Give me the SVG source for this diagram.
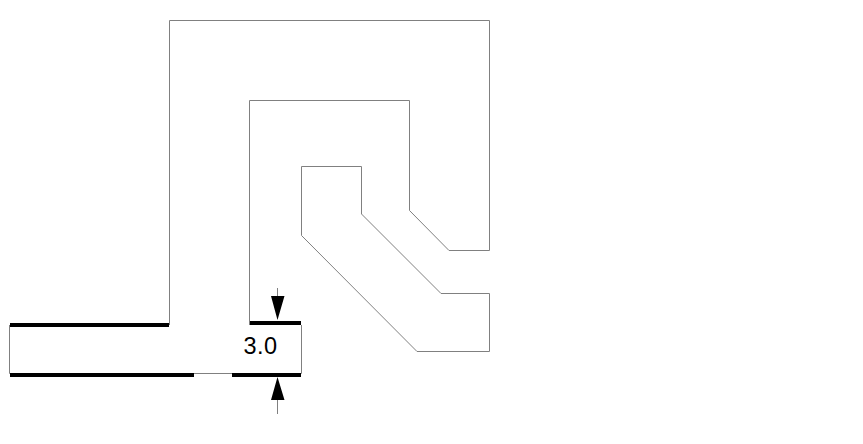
<svg xmlns="http://www.w3.org/2000/svg" width="863" height="444" viewBox="0 0 863 444">
<defs><style>
.l{fill:none;stroke:#808080;stroke-width:1}
.t{fill:none;stroke:#000;stroke-width:4}
.a{fill:#000;stroke:none}
text{font-family:"Liberation Sans",Arial,sans-serif;font-size:23.5px;letter-spacing:0.4px;fill:#000}
</style></defs>
<rect width="863" height="444" fill="#fff"/>
<g id="outer-conductor">
<path class="l" d="M169.5 325V20.5H489.5V250.5H449L409.5 210.5V100.5H249.5V325"/>
</g>
<g id="inner-conductor">
<path class="l" d="M301.5 235.5V166.5H361.5V214L441 293.5H489.5V351.5H417L301.5 235.5"/>
</g>
<g id="port">
<path class="l" d="M9.5 325V373.5H301.5V325"/>
<path class="t" d="M10 325H169M250 323H301M10 375H194M232 375H301"/>
</g>
<g id="dimension">
<path class="l" d="M277.5 288V297M277.5 400V414"/>
<path class="a" d="M271 296H284.5L277.5 320ZM271 400H284.5L277.5 377Z"/>
<text x="243.5" y="353.5">3.0</text>
</g>
</svg>
